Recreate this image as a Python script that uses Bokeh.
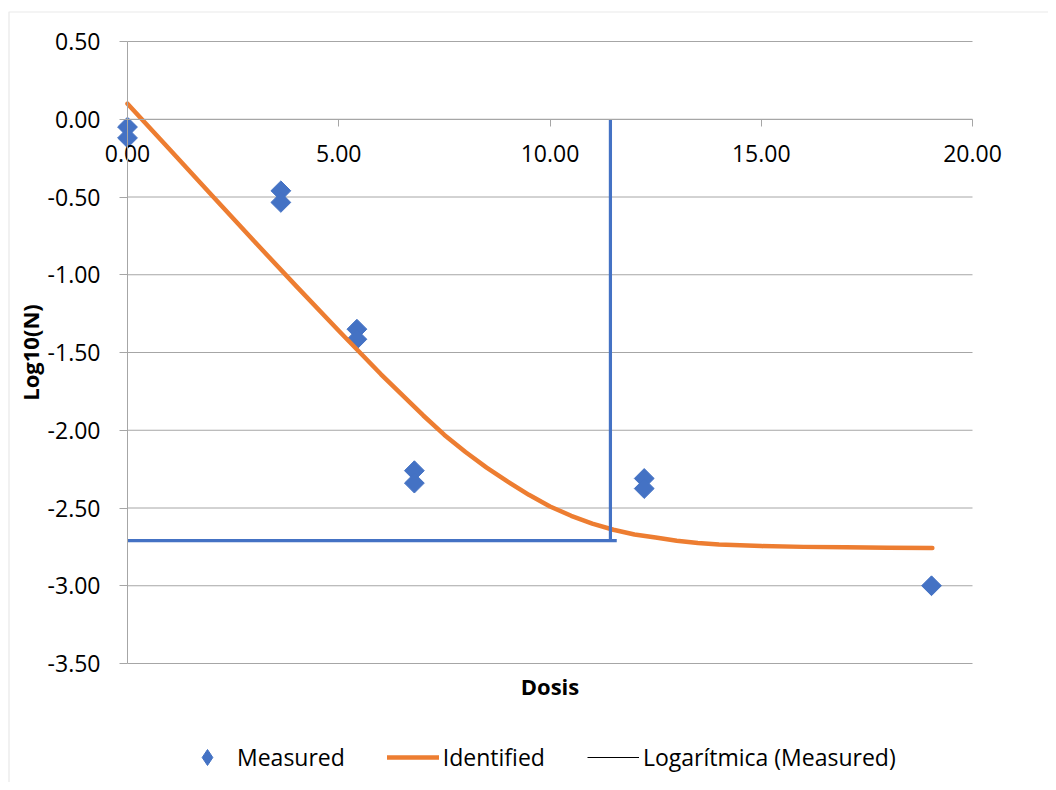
import numpy as np
from bokeh.plotting import figure
from bokeh.models import (FixedTicker, NumeralTickFormatter, Legend, LegendItem,
                          Label, Range1d, BoxAnnotation)
from bokeh.embed import file_html
from bokeh.resources import INLINE

# ---- data ----
measured_x = [0.0, 0.0, 3.63, 3.63, 5.43, 5.43, 6.79, 6.79, 12.23, 12.23, 19.03]
measured_y = [-0.05, -0.12, -0.46, -0.535, -1.35, -1.415, -2.26, -2.34, -2.31, -2.375, -3.00]

identified_x = [0, 1, 2, 3, 4, 5, 6, 7, 7.5, 8, 8.5, 9, 9.5, 10, 10.5, 11, 11.5,
                12, 12.5, 13, 13.5, 14, 15, 16, 17, 18, 19.05]
identified_y = [0.10, -0.195, -0.49, -0.785, -1.075, -1.36, -1.64, -1.905, -2.03, -2.14,
                -2.24, -2.33, -2.415, -2.49, -2.55, -2.60, -2.64, -2.67, -2.69, -2.71,
                -2.725, -2.735, -2.745, -2.75, -2.752, -2.755, -2.757]

limit_v_x = [11.43, 11.43]
limit_v_y = [0.0, -2.71]
limit_h_x = [0.0, 11.58]
limit_h_y = [-2.71, -2.71]

x_ticks = [0, 5, 10, 15, 20]
y_ticks = [0.5, 0.0, -0.5, -1.0, -1.5, -2.0, -2.5, -3.0, -3.5]

X_MIN, X_MAX = 0, 20
Y_MIN, Y_MAX = -3.5, 0.5

BLUE = "#4472C4"
ORANGE = "#ED7D31"
GRID = "#a6a6a6"
FONT = "Open Sans"

# ---- layout (pixels on the canvas) ----
W, H = 1048, 782
PL, PR = 127, 972      # pixel of x = 0 and x = 20
PT, PB = 41, 663       # pixel of y = 0.5 and y = -3.5
sx = (PR - PL) / (X_MAX - X_MIN)
sy = (PB - PT) / (Y_MAX - Y_MIN)
x_range = Range1d(X_MIN - PL / sx, X_MAX + (W - PR) / sx)
y_range = Range1d(Y_MIN - (H - PB) / sy, Y_MAX + PT / sy)

def px_to_x(px):
    return X_MIN + (px - PL) / sx

def px_to_y(py):
    return Y_MAX - (py - PT) / sy

p = figure(width=W, height=H, x_range=x_range, y_range=y_range,
           output_backend="svg", toolbar_location=None,
           min_border_left=0, min_border_right=0,
           min_border_top=0, min_border_bottom=0)
p.outline_line_color = None
p.background_fill_color = "white"
p.border_fill_color = "white"

# chart-area border (only its left and top edges are inside the picture)
p.add_layout(BoxAnnotation(left=px_to_x(8.5), top=px_to_y(11.5),
                           right=px_to_x(W + 50), bottom=px_to_y(H + 50),
                           fill_alpha=0, line_color="#b4b4b4", line_width=1.2))

# horizontal gridlines limited to the plot area (x from 0 to 20)
p.xgrid.visible = False
p.ygrid.visible = False
p.segment(x0=[X_MIN] * len(y_ticks), x1=[X_MAX] * len(y_ticks),
          y0=y_ticks, y1=y_ticks, line_color=GRID, line_width=1, level="underlay")

# x axis crossing at y = 0
xa = p.xaxis[0]
xa.fixed_location = 0
xa.bounds = (X_MIN, X_MAX)
xa.ticker = FixedTicker(ticks=x_ticks)
xa.formatter = NumeralTickFormatter(format="0.00")
xa.axis_line_color = GRID
xa.major_tick_line_color = GRID
xa.major_tick_out = 7
xa.major_tick_in = 0
xa.minor_tick_line_color = None
xa.major_label_standoff = 19
xa.major_label_text_font = FONT
xa.major_label_text_font_size = "23px"
xa.major_label_text_color = "black"

ya = p.yaxis[0]
ya.fixed_location = 0
ya.bounds = (Y_MIN, Y_MAX)
ya.ticker = FixedTicker(ticks=y_ticks)
ya.formatter = NumeralTickFormatter(format="0.00")
ya.axis_line_color = GRID
ya.major_tick_line_color = GRID
ya.major_tick_out = 8
ya.major_tick_in = 0
ya.minor_tick_line_color = None
ya.major_label_standoff = 19
ya.major_label_text_font = FONT
ya.major_label_text_font_size = "23px"
ya.major_label_text_color = "black"
ya.axis_label = "Log10(N)"
ya.axis_label_text_font = FONT
ya.axis_label_text_font_style = "bold"
ya.axis_label_text_font_size = "22px"
ya.axis_label_text_color = "black"
ya.axis_label_standoff = 0

# marks
p.scatter(measured_x, measured_y, marker="square", angle=np.pi / 4, size=14,
          fill_color=BLUE, line_color=BLUE)
r_ident = p.line(identified_x, identified_y, line_color=ORANGE, line_width=4.5,
                 line_cap="round", line_join="round")
p.line(limit_v_x, limit_v_y, line_color=BLUE, line_width=3.2)
p.line(limit_h_x, limit_h_y, line_color=BLUE, line_width=3.2)

# legend-only renderers (placed outside the visible ranges)
far = x_range.start - 100
r_leg_meas = p.scatter([far], [far], marker="diamond", fill_color=BLUE, line_color=BLUE)
r_leg_log = p.line([far, far + 1], [far, far], line_color="black", line_width=1)

legend = Legend(items=[LegendItem(label="Measured", renderers=[r_leg_meas]),
                       LegendItem(label="Identified", renderers=[r_ident]),
                       LegendItem(label="Logarítmica (Measured)", renderers=[r_leg_log])],
                orientation="horizontal", location=(181, H - 777),
                glyph_width=52, glyph_height=40, label_standoff=4, spacing=42,
                padding=0, border_line_color=None, background_fill_alpha=0,
                label_text_font=FONT, label_text_font_size="23px",
                label_text_color="black")
p.add_layout(legend, "center")

p.add_layout(Label(x=(X_MIN + X_MAX) / 2, y=px_to_y(685), text="Dosis",
                   text_align="center", text_baseline="middle", text_font=FONT,
                   text_font_style="bold", text_font_size="22px", text_color="black"))

open("out.html", "w").write(file_html(p, INLINE))
